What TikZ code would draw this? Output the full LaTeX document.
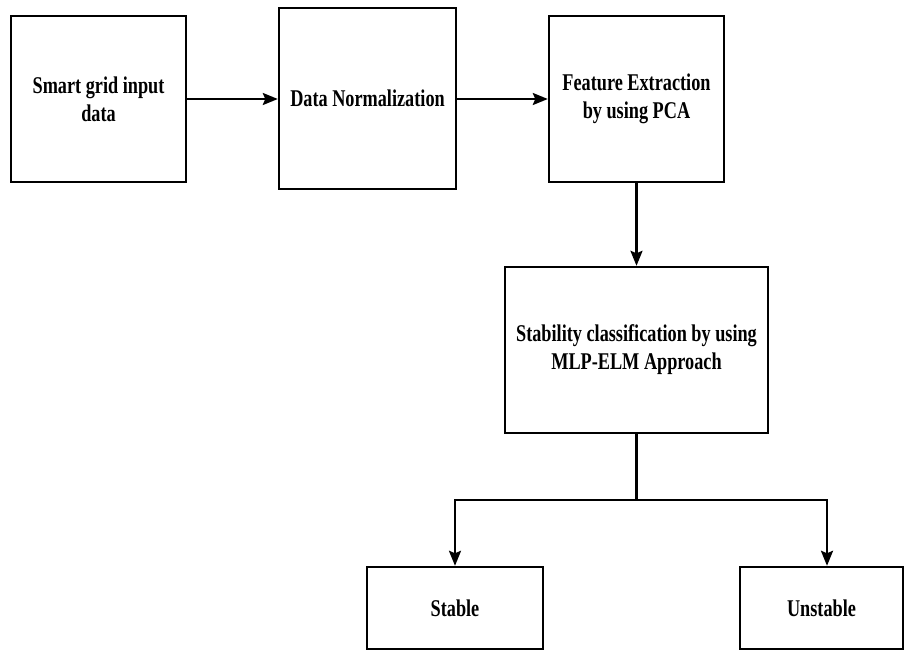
\documentclass[tikz,border=0pt]{standalone}
\usepackage{fontspec}
\newfontfamily\boxfont{Liberation Serif}[FakeStretch=0.76,BoldFeatures={FakeStretch=0.76}]
\usetikzlibrary{arrows.meta}
\begin{document}
\begin{tikzpicture}[x=1pt,y=-1pt,
  blk/.style={draw=black,line width=2.4pt,inner sep=0pt,align=center,
    font=\boxfont\bfseries\fontsize{24}{28}\selectfont},
  conn/.style={line width=2.4pt,-{Stealth[length=15pt,width=12pt,inset=2.5pt]}},
  plain/.style={line width=2.4pt}]
\useasboundingbox (0,0) rectangle (904,650);
\node[blk,minimum width=175pt,minimum height=166pt] (a) at (98.5,99) {Smart grid input\\data};
\node[blk,minimum width=177pt,minimum height=181pt] (b) at (367.5,98.5) {Data Normalization};
\node[blk,minimum width=175pt,minimum height=166pt] (c) at (636.5,99) {Feature Extraction\\by using PCA};
\node[blk,minimum width=263pt,minimum height=166pt] (d) at (636.5,350) {Stability classification by using\\MLP-ELM Approach};
\node[blk,minimum width=176pt,minimum height=82pt] (s) at (455,608) {Stable};
\node[blk,minimum width=163pt,minimum height=82pt] (u) at (821.5,608) {Unstable};
\coordinate (j) at (636.5,500);
\coordinate (jl) at (455,500);
\coordinate (jr) at (827,500);
\draw[conn] (a.east |- 0,99) -- (b.west |- 0,99);
\draw[conn] (b.east |- 0,99) -- (c.west |- 0,99);
\draw[conn] (c.south) -- (d.north);
\draw[plain] (d.south) -- (j);
\draw[plain,line cap=rect] (jl) -- (jr);
\draw[conn] (jl) -- (s.north);
\draw[conn] (jr) -- (jr |- u.north);
\end{tikzpicture}
\end{document}
